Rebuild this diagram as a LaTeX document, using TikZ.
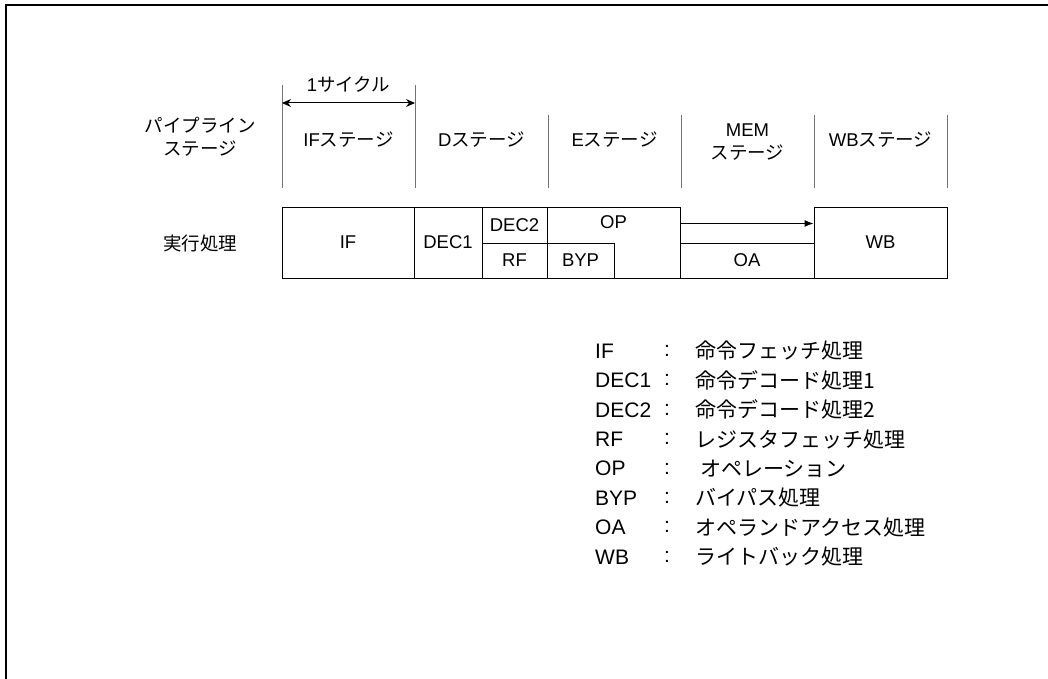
\documentclass[tikz,border=0pt]{standalone}
\usepackage{fontspec}
\setmainfont{Liberation Sans}
\newfontfamily\jp{Noto Sans CJK JP}
\usetikzlibrary{arrows.meta}
\begin{document}
\begin{tikzpicture}[x=1pt,y=-1pt,
  dfont/.style={font=\fontsize{18.5}{23}\selectfont},
  lfont/.style={font=\fontsize{21}{25}\selectfont},
  box/.style={draw=black,line width=1pt,inner sep=0pt,dfont},
  sepline/.style={draw=black!55,line width=1pt},
  txt/.style={dfont,inner sep=0pt,align=center},
  leg/.style={lfont,inner sep=0pt,anchor=west}]
\useasboundingbox (0,0) rectangle (1048,679);
% frame (top and left edges)
\draw[line width=2pt] (6,679) -- (6,5) -- (1048,5);
% stage separators
\draw[sepline] (282,85) -- (282,188);
\draw[sepline] (415,85) -- (415,188);
\draw[sepline] (548,115) -- (548,188);
\draw[sepline] (681,115) -- (681,188);
\draw[sepline] (814,115) -- (814,188);
\draw[sepline] (947,115) -- (947,188);
% cycle arrow
\coordinate (c1) at (282,103);
\coordinate (c2) at (415,103);
\draw[line width=1pt,{Stealth[length=9pt,width=8pt]}-{Stealth[length=9pt,width=8pt]}] (c1) -- (c2);
\node[txt] (cyc) at (348.5,84) {1{\jp サイクル}};
% row labels
\node[txt] (pl) at (200,137) {{\jp パイプライン}\\{\jp ステージ}};
\node[txt] (ex) at (200,243) {{\jp 実行処理}};
% stage labels
\node[txt] (sif) at (348.5,140) {IF{\jp ステージ}};
\node[txt] (sd) at (481.5,140) {D{\jp ステージ}};
\node[txt] (se) at (614.5,140) {E{\jp ステージ}};
\node[txt] (smem) at (747.5,142) {MEM\\{\jp ステージ}};
\node[txt] (swb) at (880.5,140) {WB{\jp ステージ}};
% execution boxes
\node[box,minimum width=132pt,minimum height=71pt] (if) at (348,242.5) {IF};
\node[box,minimum width=68pt,minimum height=71pt] (dec1) at (448,242.5) {DEC1};
\node[box,minimum width=65pt,minimum height=36pt] (dec2) at (514.5,225) {DEC2};
\node[box,minimum width=65pt,minimum height=35pt] (rf) at (514.5,260.5) {RF};
\node[box,minimum width=133pt,minimum height=71pt] (op) at (613.5,242.5) {};
\node[txt] (oplab) at (613.5,222) {OP};
\node[box,minimum width=67pt,minimum height=35pt] (byp) at (580.5,260.5) {BYP};
\node[box,minimum width=134pt,minimum height=35pt] (oa) at (747,260.5) {OA};
\node[box,minimum width=133pt,minimum height=71pt] (wb) at (880.5,242.5) {WB};
\draw[line width=1pt,-{Latex[length=9pt,width=7pt]}] ([yshift=-17pt]op.north east) -- ([yshift=-17pt]wb.north west);
% legend
\foreach \i/\a/\b in {0/IF/{命令フェッチ処理},1/DEC1/{命令デコード処理1},2/DEC2/{命令デコード処理2},3/RF/{レジスタフェッチ処理},5/BYP/{バイパス処理},6/OA/{オペランドアクセス処理},7/WB/{ライトバック処理}}{
  \node[leg] (la\i) at (595,351+29.4*\i) {\a};
  \node[lfont,inner sep=0pt] (lc\i) at (667,351+29.4*\i) {:};
  \node[leg] (lb\i) at (695,351+29.4*\i) {\jp\b};
}
\node[leg] (la4) at (595,351+29.4*4) {OP};
\node[lfont,inner sep=0pt] (lc4) at (667,351+29.4*4) {:};
\node[leg] (lb4) at (700,351+29.4*4) {\jp オペレーション};
\end{tikzpicture}
\end{document}
